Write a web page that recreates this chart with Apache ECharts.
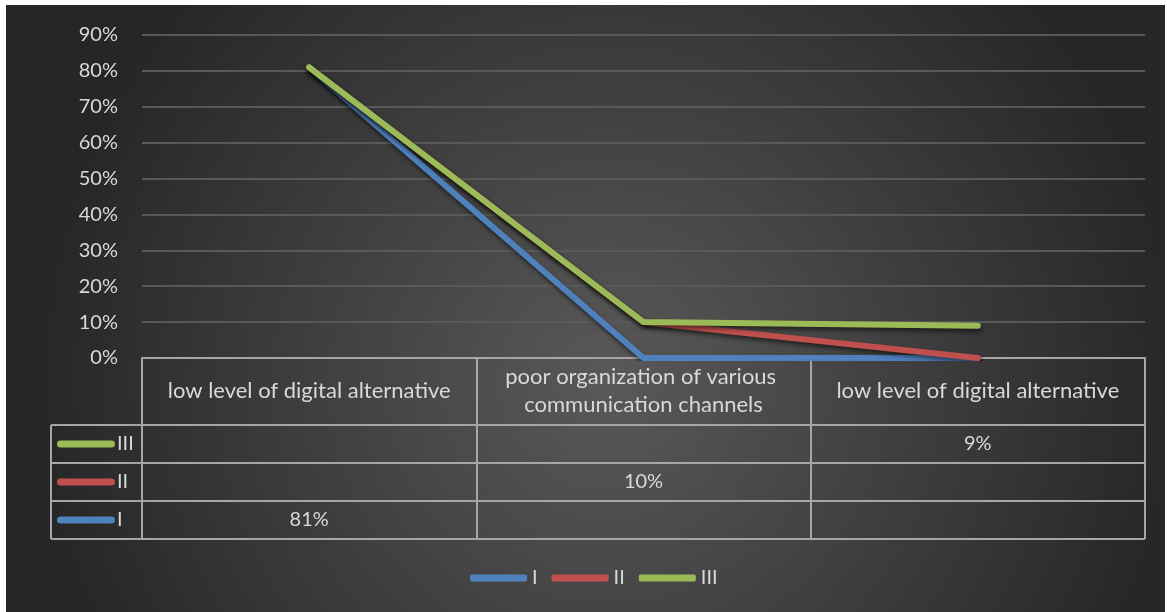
<!DOCTYPE html>
<html>
<head>
<meta charset="utf-8">
<script src="https://cdn.jsdelivr.net/npm/echarts@6/dist/echarts.min.js"></script>
<style>
  html, body { margin: 0; padding: 0; background: #ffffff; }
  #chart { position: absolute; left: 6px; top: 5px; width: 1159px; height: 607px; }
</style>
</head>
<body>
<div id="chart"></div>
<script>
// Categories along the x axis
const categories = [
  'low level of digital alternative',
  'poor organization of various communication channels',
  'low level of digital alternative'
];
// Series names and their values (percent); empty cells are null
const seriesNames = ['I', 'II', 'III'];
const valuesI = [81, null, null];
const valuesII = [null, 10, null];
const valuesIII = [null, null, 9];
const seriesValues = [valuesI, valuesII, valuesIII];
const seriesColors = ['#4F81BD', '#C0504D', '#9BBB59'];
// Value axis range
const yMin = 0, yMax = 90, yStep = 10;

const FONT = 'Lato';
const TEXT = '#d9d9d9';
const FS = 20;
const CAT_FS = 22;
const BORDER = '#a6a6a6';

const chart = echarts.init(document.getElementById('chart'));

const series = seriesNames.map((name, i) => ({
  name: name,
  type: 'line',
  stack: 'total',
  // empty cells plotted as zero
  data: seriesValues[i].map(v => (v == null ? 0 : v)),
  showSymbol: false,
  symbol: 'none',
  lineStyle: {
    color: seriesColors[i], width: 6, cap: 'round', join: 'round',
    shadowColor: 'rgba(0,0,0,0.55)', shadowBlur: 4, shadowOffsetX: 1, shadowOffsetY: 3
  },
  itemStyle: { color: seriesColors[i] },
  emphasis: { disabled: true },
  animation: false
}));

chart.setOption({
  animation: false,
  backgroundColor: {
    type: 'radial', x: 0.52, y: 0.62, r: 0.95,
    colorStops: [
      { offset: 0, color: '#595959' },
      { offset: 1, color: '#262626' }
    ]
  },
  textStyle: { fontFamily: FONT },
  grid: { left: 136, right: 20, top: 30, bottom: 254, containLabel: false },
  legend: {
    data: seriesNames,
    left: 459,
    top: 558,
    icon: 'roundRect',
    itemWidth: 57,
    itemHeight: 7,
    itemGap: 14,
    textStyle: { color: TEXT, fontSize: FS, fontFamily: FONT }
  },
  xAxis: {
    type: 'category',
    data: categories,
    boundaryGap: true,
    axisLine: { show: true, lineStyle: { color: BORDER, width: 2 } },
    axisTick: { show: true, interval: 0, length: 181, lineStyle: { color: BORDER, width: 2 } },
    axisLabel: {
      interval: 0, color: TEXT, fontSize: CAT_FS, fontFamily: FONT,
      margin: 33, verticalAlign: 'middle', width: 310, overflow: 'break', lineHeight: 28
    },
    splitLine: { show: false }
  },
  yAxis: {
    type: 'value',
    min: yMin, max: yMax, interval: yStep,
    axisLine: { show: false },
    axisTick: { show: false },
    axisLabel: { color: TEXT, fontSize: FS, fontFamily: FONT, margin: 24, formatter: '{value}%' },
    splitLine: { lineStyle: { color: '#595959', width: 2 } }
  },
  series: series
});

// Data table below the plot: row borders, series keys and cell values
function drawTable() {
  const w = chart.getWidth();
  const gridRight = w - 20;
  const axisY = chart.convertToPixel({ yAxisIndex: 0 }, 0);
  const headerH = 67, rowH = 38;
  const keyLeft = 45;
  const rowsTop = axisY + headerH;
  const els = [];
  const line = (x1, y1, x2, y2) => els.push({
    type: 'line', silent: true,
    shape: { x1, y1, x2, y2 },
    style: { stroke: BORDER, lineWidth: 2 }
  });
  // horizontal borders
  for (let r = 0; r <= seriesNames.length; r++) {
    const y = rowsTop + r * rowH;
    line(keyLeft, y, gridRight, y);
  }
  // outer left border of the key column
  line(keyLeft, rowsTop, keyLeft, rowsTop + seriesNames.length * rowH);

  // rows listed top to bottom in reverse series order
  const order = seriesNames.map((_, i) => i).reverse();
  order.forEach((si, r) => {
    const cy = rowsTop + r * rowH + rowH / 2;
    els.push({
      type: 'rect', silent: true,
      shape: { x: keyLeft + 6, y: cy - 3.5, width: 58, height: 7, r: 3.5 },
      style: { fill: seriesColors[si] }
    });
    els.push({
      type: 'text', silent: true,
      style: {
        x: keyLeft + 66, y: cy, text: seriesNames[si], fill: TEXT,
        font: FS + 'px ' + FONT, verticalAlign: 'middle', align: 'left'
      }
    });
    seriesValues[si].forEach((v, ci) => {
      if (v == null) return;
      const cx = chart.convertToPixel({ xAxisIndex: 0 }, ci);
      els.push({
        type: 'text', silent: true,
        style: {
          x: cx, y: cy, text: v + '%', fill: TEXT,
          font: FS + 'px ' + FONT, verticalAlign: 'middle', align: 'center'
        }
      });
    });
  });
  chart.setOption({ graphic: { elements: els } });
}
drawTable();
</script>
</body>
</html>
